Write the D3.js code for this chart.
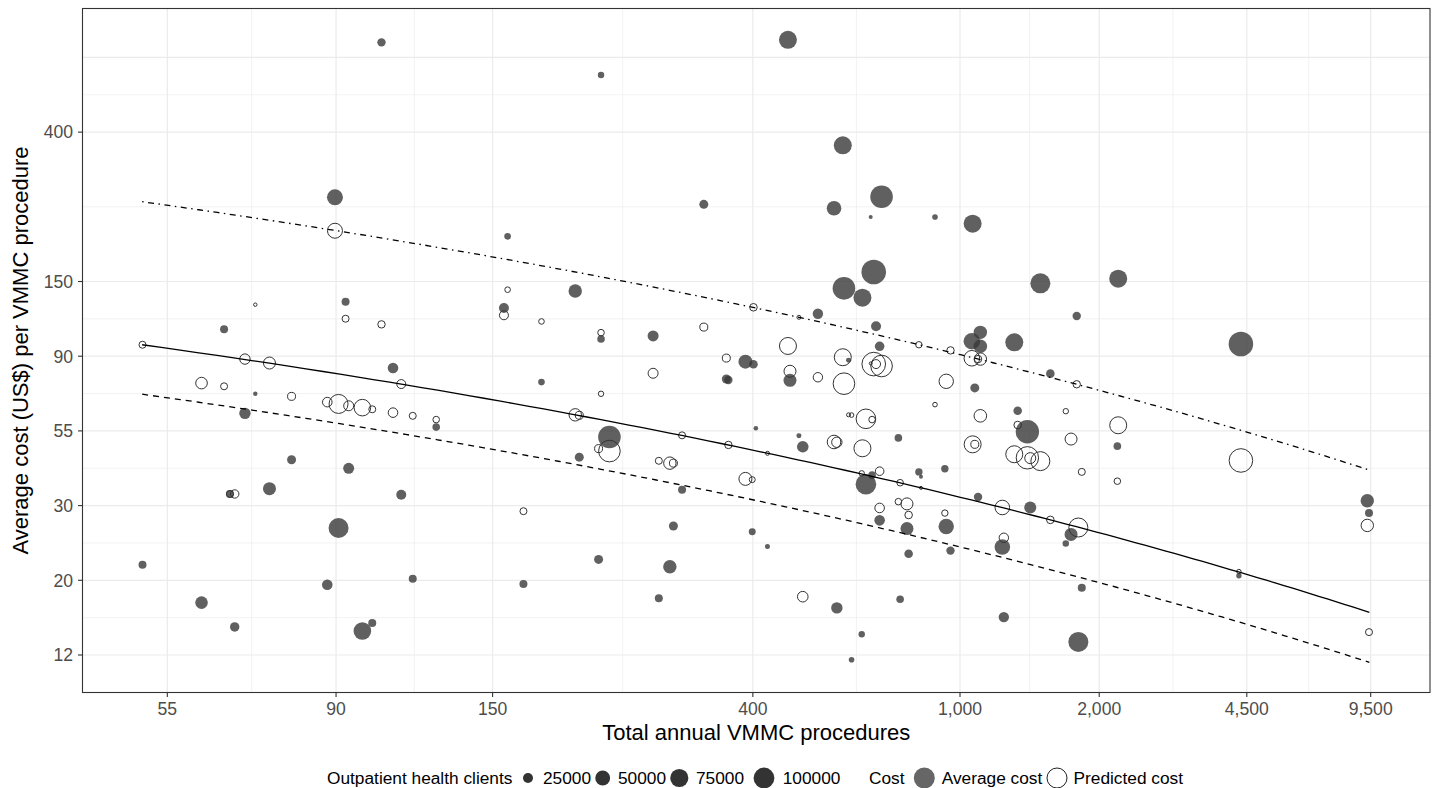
<!DOCTYPE html>
<html><head><meta charset="utf-8">
<script src="https://cdn.jsdelivr.net/npm/d3@7"></script>
<style>body{margin:0;background:#fff}svg{display:block}</style>
</head><body>
<svg id="c" width="1434" height="788"></svg>
<script>
// ---- data (one entry per facility) ----
const procedures = [51.4,60.5,64.5,65.6,66.5,68.5,70.6,73.6,78.6,87.6,89.7,90.7,92.7,93.6,97.7,100.8,103.8,107.7,110.6,114.8,124,156,158,167,178,201,204,219,221,221,228,269,275,287,291,301,328,359,362,388,399,401,405,425,463,467,485,493,526,564,571,586,589,601,609,637,639,649,663,667,672,679,690,690,696,751,757,781,787,825,833,889,931,937,956,1058,1062,1073,1090,1102,1102,1226,1235,1300,1322,1387,1407,1480,1556,1683,1729,1780,1795,1827,2200,2210,4300,4350,9300,9400];
const clients = [18900,36500,18900,18900,22900,30600,14050,38600,21600,27200,57800,91800,18900,28900,70200,18900,19900,27200,24900,18900,17900,24900,16100,18900,16100,40900,21600,21600,15800,17900,119200,28900,18900,40900,21600,18900,21600,21600,19900,44400,16700,20400,14100,14300,73600,38600,14300,31600,26500,48200,30600,73600,119200,14300,14800,15800,73600,97800,14000,17900,143000,24900,23500,27200,119200,17900,17900,38600,20400,17500,14000,14800,17500,53500,19900,62300,73600,21600,19900,40900,42000,54900,26500,73600,20400,128400,33500,91800,20400,15800,38600,19900,91800,18900,17900,73600,14600,143000,40900,18900];
const averageCost = [22.3,17.3,107.8,35.8,14.7,61.4,70.0,37.1,45.0,19.5,260.7,28.5,129.7,42.5,14.3,15.1,735.7,83.2,35.6,20.3,56.0,124.3,200.8,19.6,75.7,139.3,45.8,23.1,591.1,101.0,52.4,103.1,17.8,22.0,28.9,36.8,248.8,77.3,76.8,86.8,27.8,85.3,55.6,25.2,748.6,76.6,52.9,49.1,119.6,242.3,16.7,369.3,141.8,87.6,11.8,14.0,133.2,38.2,228.5,40.6,158.2,110.0,96.2,30.0,261.8,52.1,17.7,28.4,24.0,41.5,40.2,228.5,42.4,28.8,24.5,99.5,218.5,72.8,35.1,105.6,96.2,25.1,15.7,98.8,62.5,54.3,32.7,146.6,80.1,25.7,27.3,117.8,13.3,19.1,49.3,151.2,20.7,97.7,34.2,31.5];
const predictedCost = [97.2,75.2,73.6,35.8,35.8,88.3,127.1,86.0,68.8,66.2,208.5,65.4,115.7,64.6,63.8,63.1,111.4,61.7,74.7,60.4,58.9,118.4,140.5,31.9,113.6,60.8,60.6,48.5,70.0,105.4,47.7,80.3,44.7,44.0,44.0,53.0,109.4,88.9,49.7,39.6,39.4,124.9,null,47.0,96.4,81.4,116.8,18.0,78.2,50.7,50.6,89.4,74.9,60.8,60.7,41.1,48.6,59.2,85.8,58.9,85.4,85.4,41.7,32.6,84.3,34.0,38.6,33.5,31.1,97.2,37.3,65.1,31.5,76.1,93.6,88.8,49.9,49.9,88.3,88.3,60.4,32.7,26.7,46.7,56.8,45.6,45.5,44.6,30.1,62.3,51.7,74.6,28.6,41.5,39.0,56.7,21.3,44.8,29.0,14.2];

// fitted lines: [start, end] as [procedures, cost]
const lineFit   = [[51.35, 97.2], [9420, 16.21]];
const lineLower = [[51.35, 69.8], [9420, 11.60]];
const lineUpper = [[51.35, 253.2], [9420, 42.0]];

// axes
const xTicks = [55, 90, 150, 400, 1000, 2000, 4500, 9500];
const yBreaksLn = [2.5, 3, 3.5, 4, 4.5, 5, 6, 6.5];
const yTickLabels = ["12", "20", "30", "55", "90", "150", "400", ""];
const xDomain = [43.84, 13904];
const yDomain = [9.478, 922.9];
const sizeDomain = [14000, 143000];
const legendClients = [25000, 50000, 75000, 100000];

// ---- layout ----
const P = {l: 82.5, r: 1430, t: 8.5, b: 692.5};
const font = "'Liberation Sans', Arial, Helvetica, sans-serif";
const svg = d3.select("#c");
svg.append("rect").attr("width", 1434).attr("height", 788).attr("fill", "#fff");

// x: log scale applied to ln(procedures); y: log scale of cost
const xs = d3.scaleLog().domain(xDomain.map(Math.log)).range([P.l, P.r]);
const X = v => xs(Math.log(v));
const Y = d3.scaleLog().domain(yDomain).range([P.b, P.t]);
const rs = d3.scaleSqrt().domain([0, sizeDomain[1] - sizeDomain[0]]).range([2, 12.3]);
const R = v => rs(Math.max(0, v - sizeDomain[0]));

// grid
const g = svg.append("g");
const xMinor = d3.pairs(xTicks).map(([a, b]) => (X(a) + X(b)) / 2);
const yMinorLn = d3.pairs(yBreaksLn).map(([a, b]) => (a + b) / 2);
g.selectAll(".xm").data(xMinor).join("line")
  .attr("x1", d => d).attr("x2", d => d).attr("y1", P.t).attr("y2", P.b)
  .attr("stroke", "#ededed").attr("stroke-width", 0.7);
g.selectAll(".ym").data(yMinorLn).join("line")
  .attr("y1", d => Y(Math.exp(d))).attr("y2", d => Y(Math.exp(d))).attr("x1", P.l).attr("x2", P.r)
  .attr("stroke", "#ededed").attr("stroke-width", 0.7);
g.selectAll(".xM").data(xTicks).join("line")
  .attr("x1", d => X(d)).attr("x2", d => X(d)).attr("y1", P.t).attr("y2", P.b)
  .attr("stroke", "#ebebeb").attr("stroke-width", 1.2);
g.selectAll(".yM").data(yBreaksLn).join("line")
  .attr("y1", d => Y(Math.exp(d))).attr("y2", d => Y(Math.exp(d))).attr("x1", P.l).attr("x2", P.r)
  .attr("stroke", "#ebebeb").attr("stroke-width", 1.2);

// points
const data = procedures.map((p, i) => ({p, c: clients[i], avg: averageCost[i], pred: predictedCost[i]}));
svg.append("clipPath").attr("id", "pc").append("rect")
  .attr("x", P.l).attr("y", P.t).attr("width", P.r - P.l).attr("height", P.b - P.t);
const pts = svg.append("g").attr("clip-path", "url(#pc)");
pts.selectAll(".f").data(data).join("circle")
  .attr("cx", d => X(d.p)).attr("cy", d => Y(d.avg)).attr("r", d => R(d.c))
  .attr("fill", "#383838").attr("fill-opacity", 0.8);
pts.selectAll(".o").data(data.filter(d => d.pred != null)).join("circle")
  .attr("cx", d => X(d.p)).attr("cy", d => Y(d.pred)).attr("r", d => R(d.c) - 0.5)
  .attr("fill", "none").attr("stroke", "#333").attr("stroke-width", 1);

// lines (straight in log-log space)
function sample(seg) {
  const [a, b] = seg;
  const la = Math.log(a[0]), lb = Math.log(b[0]), ca = Math.log(a[1]), cb = Math.log(b[1]);
  return d3.range(0, 101).map(i => { const t = i / 100; return [Math.exp(la + (lb - la) * t), Math.exp(ca + (cb - ca) * t)]; });
}
const line = d3.line().x(d => X(d[0])).y(d => Y(d[1]));
[[lineFit, null], [lineLower, "6,5"], [lineUpper, "1.5,4.5,6,4.5"]].forEach(([seg, dash]) => {
  svg.append("path").attr("d", line(sample(seg))).attr("fill", "none")
    .attr("stroke", "#000").attr("stroke-width", 1.3).attr("stroke-dasharray", dash);
});

// panel border
svg.append("rect").attr("x", P.l).attr("y", P.t).attr("width", P.r - P.l).attr("height", P.b - P.t)
  .attr("fill", "none").attr("stroke", "#333").attr("stroke-width", 1.1);

// ticks & labels
const ax = svg.append("g").attr("font-family", font);
ax.selectAll(".xt").data(xTicks).join("line")
  .attr("x1", d => X(d)).attr("x2", d => X(d)).attr("y1", P.b).attr("y2", P.b + 4.5)
  .attr("stroke", "#333").attr("stroke-width", 1.1);
ax.selectAll(".xl").data(xTicks).join("text")
  .attr("x", d => X(d)).attr("y", 714.5).attr("text-anchor", "middle")
  .attr("font-size", 17.6).attr("fill", "#4d4d4d").text(d => d3.format(",")(d));
const yLab = yBreaksLn.map((v, i) => ({v, t: yTickLabels[i]})).filter(d => d.t !== "");
ax.selectAll(".yt").data(yLab).join("line")
  .attr("y1", d => Y(Math.exp(d.v))).attr("y2", d => Y(Math.exp(d.v))).attr("x1", P.l - 4.5).attr("x2", P.l)
  .attr("stroke", "#333").attr("stroke-width", 1.1);
ax.selectAll(".yl").data(yLab).join("text")
  .attr("x", 73).attr("y", d => Y(Math.exp(d.v))).attr("dy", "0.36em").attr("text-anchor", "end")
  .attr("font-size", 17.6).attr("fill", "#4d4d4d").text(d => d.t);

ax.append("text").attr("x", (P.l + P.r) / 2).attr("y", 739.5).attr("text-anchor", "middle")
  .attr("font-size", 22).attr("fill", "#000").text("Total annual VMMC procedures");
ax.append("text").attr("transform", `translate(28,${(P.t + P.b) / 2}) rotate(-90)`).attr("text-anchor", "middle")
  .attr("font-size", 22).attr("fill", "#000").text("Average cost (US$) per VMMC procedure");

// legend
const lg = svg.append("g").attr("font-family", font).attr("font-size", 17.3).attr("fill", "#000");
const ly = 778, lb = 784;
lg.append("text").attr("x", 327).attr("y", lb).text("Outpatient health clients");
const keyX = [528, 602.7, 679.3, 764];
const keyLabX = [543, 618, 696, 782.7];
lg.selectAll(".sk").data(legendClients).join("circle")
  .attr("cx", (d, i) => keyX[i]).attr("cy", ly).attr("r", d => R(d)).attr("fill", "#333");
lg.selectAll(".sl").data(legendClients).join("text")
  .attr("x", (d, i) => keyLabX[i]).attr("y", lb).text(d => d);
lg.append("text").attr("x", 869).attr("y", lb).text("Cost");
lg.append("circle").attr("cx", 924.3).attr("cy", ly).attr("r", 10.5).attr("fill", "#666");
lg.append("text").attr("x", 941.7).attr("y", lb).text("Average cost");
lg.append("circle").attr("cx", 1057).attr("cy", ly).attr("r", 10).attr("fill", "none").attr("stroke", "#222").attr("stroke-width", 1);
lg.append("text").attr("x", 1073.5).attr("y", lb).text("Predicted cost");
</script>
</body></html>
